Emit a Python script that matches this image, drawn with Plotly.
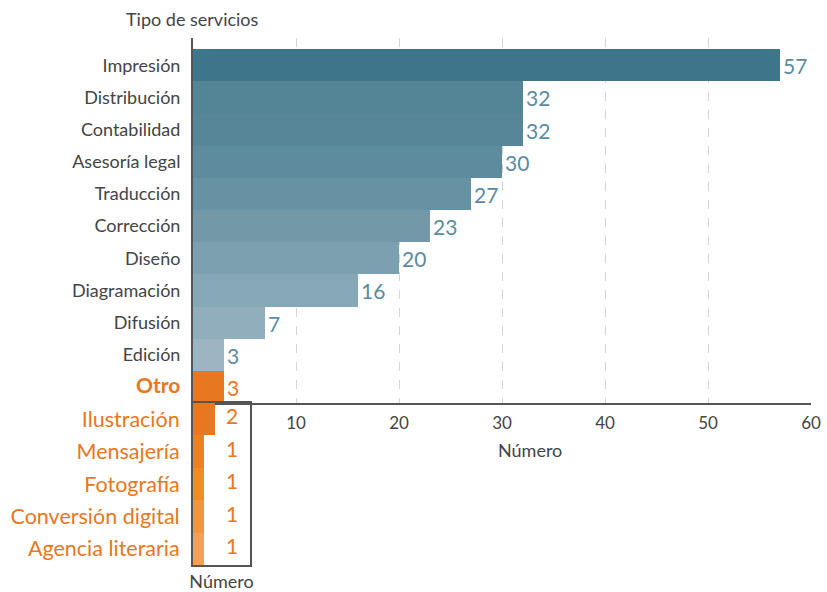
import plotly.graph_objects as go

W, H = 827, 592

categories = ["Impresión", "Distribución", "Contabilidad", "Asesoría legal", "Traducción",
              "Corrección", "Diseño", "Diagramación", "Difusión", "Edición", "Otro"]
values = [57, 32, 32, 30, 27, 23, 20, 16, 7, 3, 3]
bar_colors = ["#3e758b", "#548597", "#568698", "#5e8b9d", "#6792a3", "#7399a9",
              "#7da0b0", "#86a7b6", "#90aebb", "#9bb6c2", "#e87722"]

sub_categories = ["Ilustración", "Mensajería", "Fotografía", "Conversión digital", "Agencia literaria"]
sub_values = [2, 1, 1, 1, 1]
sub_colors = ["#e87722", "#eb8125", "#ee8c26", "#ef9641", "#f0a058"]

x_ticks = [10, 20, 30, 40, 50, 60]

BLUE_TXT = "#5b8ba1"
ORANGE = "#e87722"
GRAY = "#555555"
TXT = "#444444"
FONT = "Lato, 'Open Sans', sans-serif"

def px_x(p):
    return p / W

def px_y(p):
    return 1 - p / H

tick_text = [f"<b><span style='color:{ORANGE};font-size:21px'>{c}</span></b>" if c == "Otro" else c
             for c in categories]
label_colors = [ORANGE if c == "Otro" else BLUE_TXT for c in categories]

fig = go.Figure()

fig.add_trace(go.Bar(
    x=values, y=categories, orientation="h",
    marker=dict(color=bar_colors, line=dict(width=0)),
    text=[str(v) for v in values], textposition="outside",
    textfont=dict(family=FONT, size=21, color=label_colors),
    cliponaxis=False, xaxis="x", yaxis="y", width=1.0,
))

fig.add_trace(go.Bar(
    x=sub_values, y=sub_categories, orientation="h",
    marker=dict(color=sub_colors, line=dict(width=0)),
    xaxis="x2", yaxis="y2", width=1.0,
))

fig.add_trace(go.Scatter(
    x=[3.55] * len(sub_values), y=sub_categories, mode="text",
    text=[str(v) for v in sub_values],
    textfont=dict(family=FONT, size=21, color=ORANGE),
    xaxis="x2", yaxis="y2", cliponaxis=False,
))

fig.update_layout(
    width=W, height=H,
    margin=dict(l=0, r=0, t=0, b=0),
    paper_bgcolor="white", plot_bgcolor="white",
    showlegend=False, bargap=0,
    font=dict(family=FONT, size=18, color=GRAY),
    xaxis=dict(
        domain=[px_x(193), px_x(811)], range=[0, 60],
        tickmode="array", tickvals=x_ticks,
        showgrid=True, gridcolor="#d4d4d4", griddash="dash", gridwidth=1,
        showline=True, linecolor=GRAY, linewidth=2,
        zeroline=False, ticks="", ticklabelstandoff=4,
        tickfont=dict(size=17, color=TXT),
        anchor="y", automargin=False,
    ),
    yaxis=dict(
        domain=[px_y(403), px_y(38)],
        type="category", categoryorder="array", categoryarray=categories,
        range=[10.5, -0.85],
        tickmode="array", tickvals=categories, ticktext=tick_text,
        showline=True, linecolor=GRAY, linewidth=2,
        showgrid=False, zeroline=False, ticks="", ticklabelstandoff=7,
        tickfont=dict(size=18, color=TXT),
        anchor="x", automargin=False,
    ),
    xaxis2=dict(
        domain=[px_x(193), px_x(250)], range=[0, 57 / 11],
        showticklabels=False, showgrid=False, zeroline=False, ticks="",
        showline=True, mirror=True, linecolor=GRAY, linewidth=2,
        title=dict(text="Número", font=dict(size=18, color=TXT), standoff=10),
        anchor="y2", automargin=False,
    ),
    yaxis2=dict(
        domain=[px_y(565), px_y(403)],
        type="category", categoryorder="array", categoryarray=sub_categories,
        range=[4.5, -0.5],
        showline=True, mirror=True, linecolor=GRAY, linewidth=2,
        showgrid=False, zeroline=False, ticks="", ticklabelstandoff=7,
        tickfont=dict(size=21.5, color=ORANGE),
        anchor="x2", automargin=False,
    ),
    annotations=[
        dict(text="Tipo de servicios", x=px_x(192), y=px_y(19), xref="paper", yref="paper",
             xanchor="center", yanchor="middle", showarrow=False,
             font=dict(size=18, color=TXT)),
        dict(text="Número", x=px_x(530), y=px_y(450), xref="paper", yref="paper",
             xanchor="center", yanchor="middle", showarrow=False,
             font=dict(size=18, color=TXT)),
    ],
)

fig.write_html("out.html", config={"displayModeBar": False},
               post_script="document.body.style.margin='0';")
